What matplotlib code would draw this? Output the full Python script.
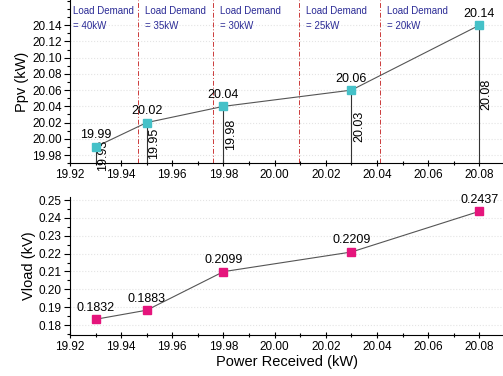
import numpy as np
import matplotlib.pyplot as plt
from matplotlib.ticker import MultipleLocator, FormatStrFormatter

# Data
power_received = [19.93, 19.95, 19.98, 20.03, 20.08]
ppv = [19.99, 20.02, 20.04, 20.06, 20.14]
vload = [0.1832, 0.1883, 0.2099, 0.2209, 0.2437]
demand_bounds = [19.9466, 19.976, 20.0095, 20.041]
demand_labels = ["40kW", "35kW", "30kW", "25kW", "20kW"]
ppv_labels = ["19.99", "20.02", "20.04", "20.06", "20.14"]
vload_labels = ["0.1832", "0.1883", "0.2099", "0.2209", "0.2437"]

plt.rcParams["font.family"] = ["Liberation Sans", "DejaVu Sans"]

fig = plt.figure(figsize=(5.03, 3.76), dpi=100)
ax1 = fig.add_axes([0.139, 0.566, 0.865, 0.434])
ax2 = fig.add_axes([0.139, 0.109, 0.865, 0.367])

xmin, xmax = 19.92, 20.09
y1min, y1max = 19.97, 20.171

# --- top panel: Ppv ---
ax1.plot(power_received, ppv, color="#555555", lw=0.8, zorder=3)
ax1.plot(power_received, ppv, ls="none", marker="s", ms=5.5,
         color="#45c1c8", zorder=4)
for x, y, lab in zip(power_received, ppv, ppv_labels):
    ax1.vlines(x, y1min, y, color="#333333", lw=0.8, zorder=2)
    ax1.annotate(lab, (x, y), xytext=(0, 4), textcoords="offset points",
                 ha="center", va="bottom", fontsize=9)
    ax1.annotate(f"{x:.2f}", (x, (y + y1min) / 2), xytext=(1, 0),
                 textcoords="offset points", ha="left", va="center",
                 rotation=90, fontsize=9)

for b in demand_bounds:
    ax1.axvline(b, color="#cc3a3a", ls=(0, (5, 2, 1, 2)), lw=0.7, zorder=1)

lefts = [xmin] + demand_bounds
offsets = [0.0012] + [0.0028] * len(demand_bounds)
trans = ax1.get_xaxis_transform()
for l, off, lab in zip(lefts, offsets, demand_labels):
    ax1.text(l + off, 0.933, "Load Demand", transform=trans,
             color="#2b2b96", fontsize=7, ha="left", va="center")
    ax1.text(l + off, 0.84, "= " + lab, transform=trans,
             color="#2b2b96", fontsize=7, ha="left", va="center")

ax1.set_xlim(xmin, xmax)
ax1.set_ylim(y1min, y1max)
ax1.yaxis.set_minor_locator(MultipleLocator(0.01))
ax1.yaxis.set_major_formatter(FormatStrFormatter("%.2f"))
ax1.set_yticks(np.arange(19.98, 20.141, 0.02))
ax1.set_ylabel("Ppv (kW)", fontsize=10.5, labelpad=2)

# --- bottom panel: Vload ---
ax2.plot(power_received, vload, color="#555555", lw=0.8, zorder=3)
ax2.plot(power_received, vload, ls="none", marker="s", ms=5.5,
         color="#e5157c", zorder=4)
for x, y, lab in zip(power_received, vload, vload_labels):
    ax2.annotate(lab, (x, y), xytext=(0, 4), textcoords="offset points",
                 ha="center", va="bottom", fontsize=9)

ax2.set_xlim(xmin, xmax)
ax2.set_ylim(0.1744, 0.2517)
ax2.set_yticks(np.arange(0.18, 0.2501, 0.01))
ax2.yaxis.set_minor_locator(MultipleLocator(0.005))
ax2.yaxis.set_major_formatter(FormatStrFormatter("%.2f"))
ax2.set_ylabel("Vload (kV)", fontsize=10.5, labelpad=2)
ax2.set_xlabel("Power Received (kW)", fontsize=10.5, labelpad=2)

for ax in (ax1, ax2):
    ax.set_xticks(np.arange(19.92, 20.081, 0.02))
    ax.xaxis.set_major_formatter(FormatStrFormatter("%.2f"))
    ax.xaxis.set_minor_locator(MultipleLocator(0.01))
    ax.spines["top"].set_visible(False)
    ax.spines["right"].set_visible(False)
    ax.tick_params(axis="both", which="major", labelsize=8.5, length=4,
                   width=0.8, pad=2)
    ax.tick_params(axis="x", which="both", direction="inout")
    ax.tick_params(axis="both", which="minor", length=2.5, width=0.8)
    ax.grid(axis="y", color="#e4e4e4", ls=":", lw=0.8)
    ax.set_axisbelow(True)

fig.savefig("out.png", dpi=100)
